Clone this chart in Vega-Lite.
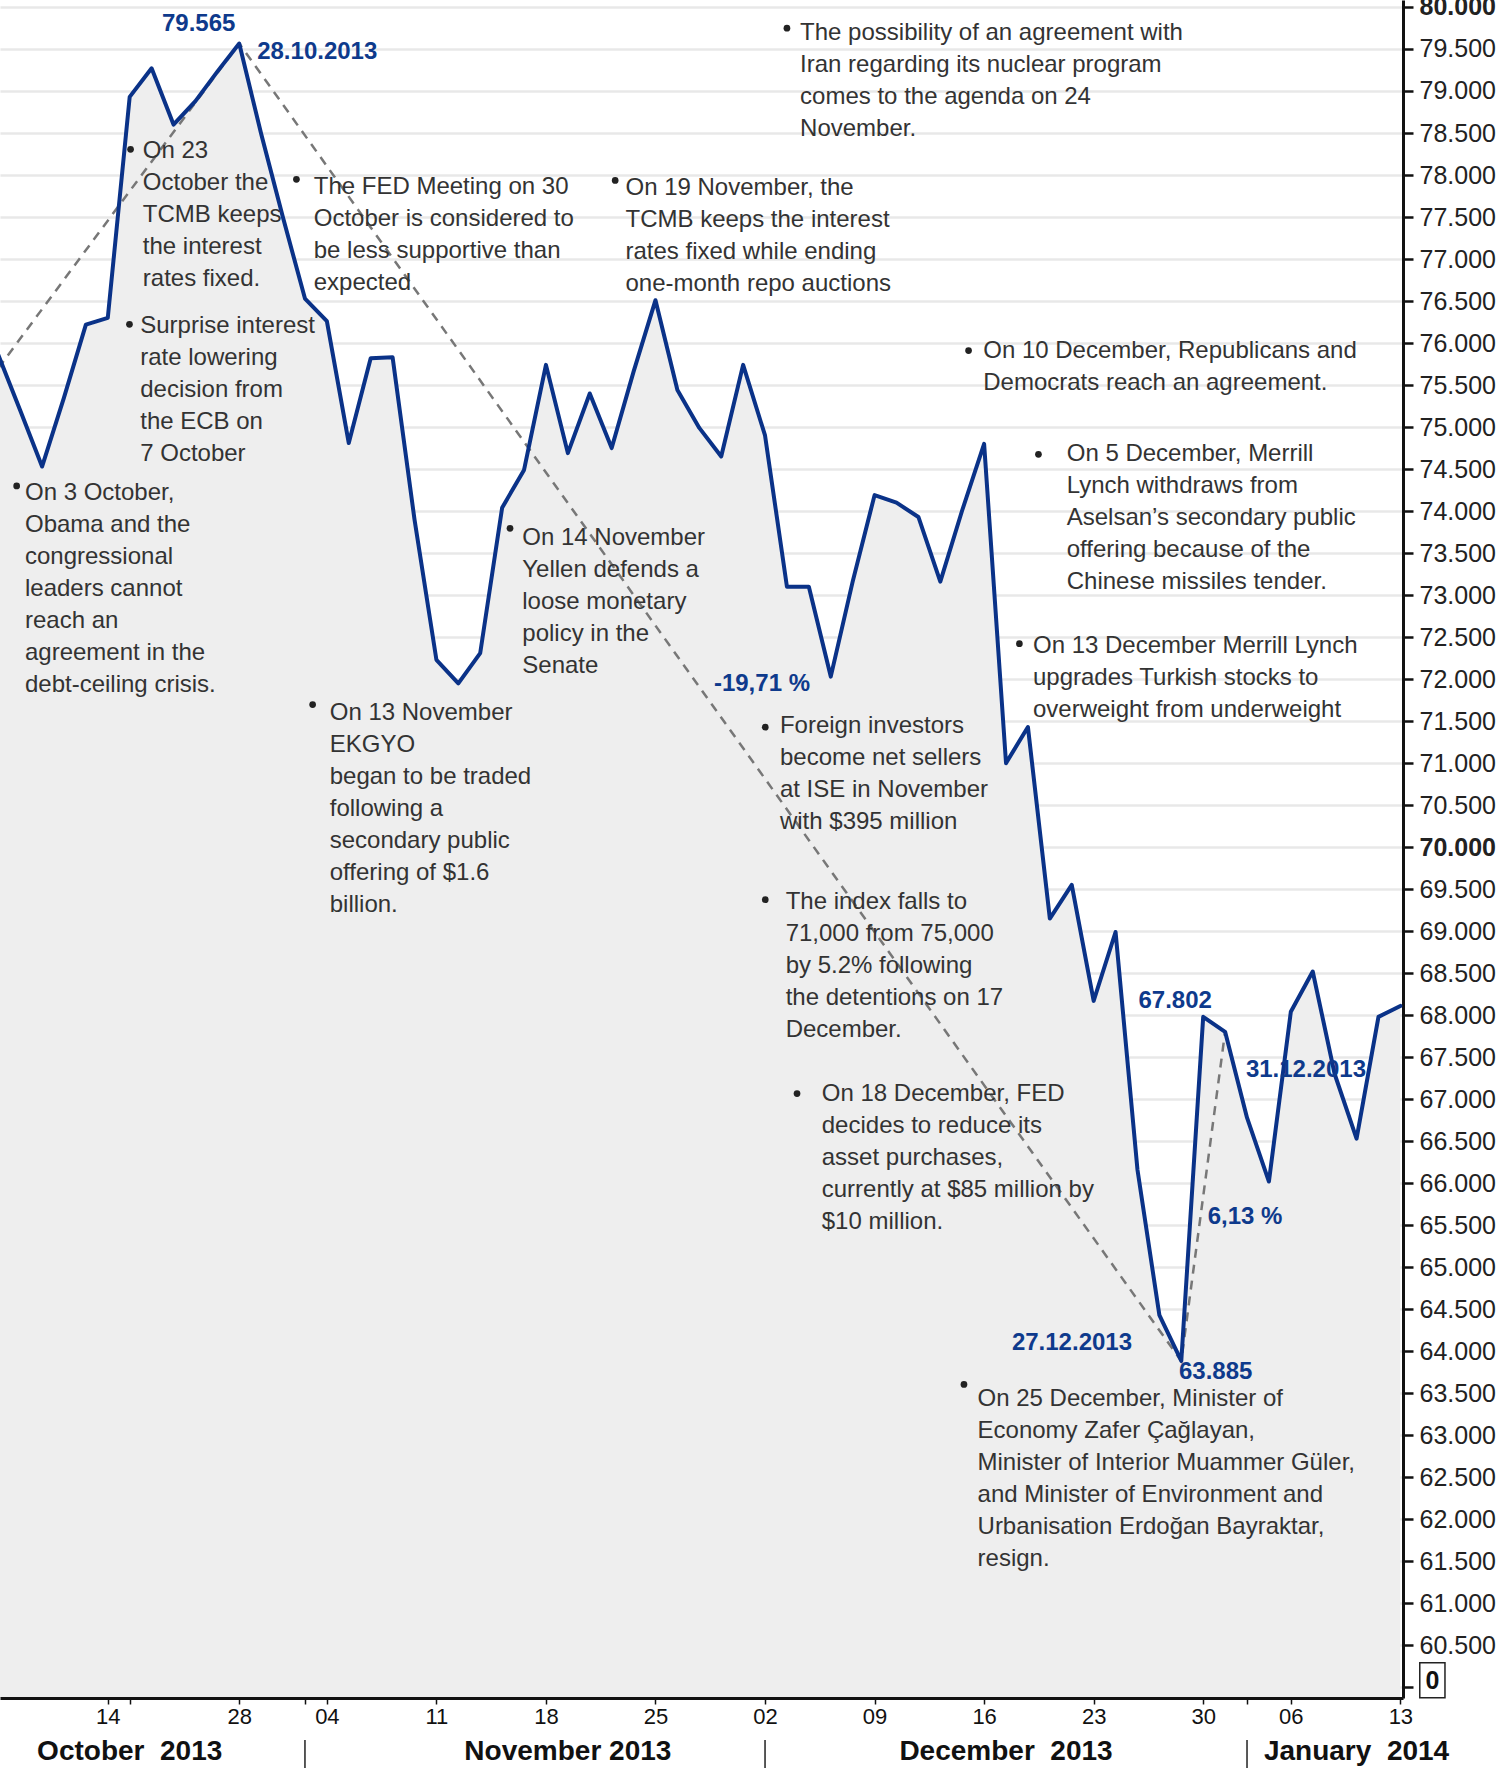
{
  "$schema": "https://vega.github.io/schema/vega-lite/v6.json",
  "width": 1403,
  "height": 1698,
  "autosize": {"type": "none"},
  "padding": {"left": 0, "top": 0, "right": 101, "bottom": 70},
  "background": "#ffffff",
  "config": {"view": {"stroke": null}, "font": "Liberation Sans"},
  "datasets": {
    "series": [
      {"date": "2013-10-07", "t": 0, "v": 75860},
      {"date": "2013-10-08", "t": 1, "v": 75200},
      {"date": "2013-10-09", "t": 2, "v": 74530},
      {"date": "2013-10-10", "t": 3, "v": 75350},
      {"date": "2013-10-11", "t": 4, "v": 76220},
      {"date": "2013-10-14", "t": 5, "v": 76300},
      {"date": "2013-10-21", "t": 6, "v": 78930},
      {"date": "2013-10-22", "t": 7, "v": 79270},
      {"date": "2013-10-23", "t": 8, "v": 78600},
      {"date": "2013-10-24", "t": 9, "v": 78880},
      {"date": "2013-10-25", "t": 10, "v": 79230},
      {"date": "2013-10-28", "t": 11, "v": 79565},
      {"date": "2013-10-30", "t": 12, "v": 78490},
      {"date": "2013-10-31", "t": 13, "v": 77490},
      {"date": "2013-11-01", "t": 14, "v": 76530},
      {"date": "2013-11-04", "t": 15, "v": 76260},
      {"date": "2013-11-05", "t": 16, "v": 74810},
      {"date": "2013-11-06", "t": 17, "v": 75820},
      {"date": "2013-11-07", "t": 18, "v": 75830},
      {"date": "2013-11-08", "t": 19, "v": 73900},
      {"date": "2013-11-11", "t": 20, "v": 72230},
      {"date": "2013-11-12", "t": 21, "v": 71950},
      {"date": "2013-11-13", "t": 22, "v": 72310},
      {"date": "2013-11-14", "t": 23, "v": 74040},
      {"date": "2013-11-15", "t": 24, "v": 74490},
      {"date": "2013-11-18", "t": 25, "v": 75740},
      {"date": "2013-11-19", "t": 26, "v": 74690},
      {"date": "2013-11-20", "t": 27, "v": 75400},
      {"date": "2013-11-21", "t": 28, "v": 74750},
      {"date": "2013-11-22", "t": 29, "v": 75660},
      {"date": "2013-11-25", "t": 30, "v": 76510},
      {"date": "2013-11-26", "t": 31, "v": 75440},
      {"date": "2013-11-27", "t": 32, "v": 74990},
      {"date": "2013-11-28", "t": 33, "v": 74650},
      {"date": "2013-11-29", "t": 34, "v": 75740},
      {"date": "2013-12-02", "t": 35, "v": 74900},
      {"date": "2013-12-03", "t": 36, "v": 73100},
      {"date": "2013-12-04", "t": 37, "v": 73100},
      {"date": "2013-12-05", "t": 38, "v": 72030},
      {"date": "2013-12-06", "t": 39, "v": 73160},
      {"date": "2013-12-09", "t": 40, "v": 74190},
      {"date": "2013-12-10", "t": 41, "v": 74100},
      {"date": "2013-12-11", "t": 42, "v": 73930},
      {"date": "2013-12-12", "t": 43, "v": 73160},
      {"date": "2013-12-13", "t": 44, "v": 74010},
      {"date": "2013-12-16", "t": 45, "v": 74800},
      {"date": "2013-12-17", "t": 46, "v": 71000},
      {"date": "2013-12-18", "t": 47, "v": 71430},
      {"date": "2013-12-19", "t": 48, "v": 69150},
      {"date": "2013-12-20", "t": 49, "v": 69550},
      {"date": "2013-12-23", "t": 50, "v": 68170},
      {"date": "2013-12-24", "t": 51, "v": 68990},
      {"date": "2013-12-25", "t": 52, "v": 66160},
      {"date": "2013-12-26", "t": 53, "v": 64430},
      {"date": "2013-12-27", "t": 54, "v": 63885},
      {"date": "2013-12-30", "t": 55, "v": 67980},
      {"date": "2013-12-31", "t": 56, "v": 67802},
      {"date": "2014-01-02", "t": 57, "v": 66780},
      {"date": "2014-01-03", "t": 58, "v": 66020},
      {"date": "2014-01-06", "t": 59, "v": 68040},
      {"date": "2014-01-07", "t": 60, "v": 68520},
      {"date": "2014-01-08", "t": 61, "v": 67300},
      {"date": "2014-01-09", "t": 62, "v": 66530},
      {"date": "2014-01-10", "t": 63, "v": 67980},
      {"date": "2014-01-13", "t": 64, "v": 68110}
    ],
    "trend": [
      {"t": 0, "v": 75700},
      {"t": 11, "v": 79565},
      {"t": 54, "v": 63885},
      {"t": 56, "v": 67802}
    ],
    "notes": [
      {"note": "The possibility of an agreement with\nIran regarding its nuclear program\ncomes to the agenda on 24\nNovember.", "t": 36.6, "v": 79832},
      {"note": "On 23\nOctober the\nTCMB keeps\nthe interest\nrates fixed.", "t": 6.6, "v": 78431},
      {"note": "The FED Meeting on 30\nOctober is considered to\nbe less supportive than\nexpected", "t": 14.4, "v": 78006},
      {"note": "On 19 November, the\nTCMB keeps the interest\nrates fixed while ending\none-month repo auctions", "t": 28.63, "v": 77994},
      {"note": "Surprise interest\nrate lowering\ndecision from\nthe ECB on\n7 October", "t": 6.48, "v": 76340},
      {"note": "On 10 December, Republicans and\nDemocrats reach an agreement.", "t": 44.96, "v": 76048},
      {"note": "On 5 December, Merrill\nLynch withdraws from\nAselsan’s secondary public\noffering because of the\nChinese missiles tender.", "t": 48.77, "v": 74827},
      {"note": "On 3 October,\nObama and the\ncongressional\nleaders cannot\nreach an\nagreement in the\ndebt-ceiling crisis.", "t": 1.22, "v": 74356},
      {"note": "On 14 November\nYellen defends a\nloose monetary\npolicy in the\nSenate", "t": 23.92, "v": 73820},
      {"note": "On 13 December Merrill Lynch\nupgrades Turkish stocks to\noverweight from underweight", "t": 47.23, "v": 72532},
      {"note": "On 13 November\nEKGYO\nbegan to be traded\nfollowing a\nsecondary public\noffering of $1.6\nbillion.", "t": 15.13, "v": 71741},
      {"note": "Foreign investors\nbecome net sellers\nat ISE in November\nwith $395 million", "t": 35.68, "v": 71579},
      {"note": "The index falls to\n71,000 from 75,000\nby 5.2% following\nthe detentions on 17\nDecember.", "t": 35.94, "v": 69487},
      {"note": "On 18 December, FED\ndecides to reduce its\nasset purchases,\ncurrently at $85 million by\n$10 million.", "t": 37.59, "v": 67205},
      {"note": "On 25 December, Minister of\nEconomy Zafer Çağlayan,\nMinister of Interior Muammer Güler,\nand Minister of Environment and\nUrbanisation Erdoğan Bayraktar,\nresign.", "t": 44.7, "v": 63569}
    ],
    "bullets": [
      {"t": 36.0, "v": 79748}, {"t": 6.04, "v": 78306}, {"t": 13.61, "v": 77949},
      {"t": 28.16, "v": 77936}, {"t": 5.99, "v": 76223}, {"t": 44.29, "v": 75910},
      {"t": 47.48, "v": 74676}, {"t": 0.84, "v": 74299}, {"t": 23.36, "v": 73795},
      {"t": 46.61, "v": 72422}, {"t": 14.35, "v": 71697}, {"t": 35.01, "v": 71428},
      {"t": 35.01, "v": 69375}, {"t": 36.46, "v": 67067}, {"t": 44.08, "v": 63605}
    ],
    "labels": [
      {"label": "79.565", "t": 9.15, "v": 79798},
      {"label": "28.10.2013", "t": 14.56, "v": 79463},
      {"label": "-19,71 %", "t": 34.86, "v": 71937},
      {"label": "67.802", "t": 53.72, "v": 68164},
      {"label": "31.12.2013", "t": 59.69, "v": 67345},
      {"label": "6,13 %", "t": 56.91, "v": 65601},
      {"label": "27.12.2013", "t": 49.01, "v": 64098},
      {"label": "63.885", "t": 55.57, "v": 63748}
    ],
    "months": [
      {"month": "October\u00a0 2013", "t": 6, "v": 59231},
      {"month": "November 2013", "t": 26, "v": 59231},
      {"month": "December\u00a0 2013", "t": 46, "v": 59231},
      {"month": "January\u00a0 2014", "t": 62, "v": 59231}
    ],
    "bounds": [
      {"t": 14, "v": 59374, "v2": 58900},
      {"t": 35, "v": 59374, "v2": 58900},
      {"t": 57, "v": 59374, "v2": 58900}
    ],
    "zero": [{"label": "0", "t": 64, "v": 60000}]
  },
  "encoding": {
    "x": {
      "field": "t", "type": "quantitative",
      "scale": {"domain": [0.08, 64.12], "nice": false, "zero": false},
      "axis": {
        "values": [5, 6, 11, 14, 15, 20, 25, 30, 35, 40, 45, 50, 55, 57, 59, 64],
        "labelExpr": "['14','','28','','04','11','18','25','02','09','16','23','30','','06','13'][indexof([5,6,11,14,15,20,25,30,35,40,45,50,55,57,59,64], datum.value)]",
        "title": null, "grid": false,
        "domainColor": "#111111", "domainWidth": 3,
        "tickColor": "#111111", "tickSize": 6, "tickWidth": 1.5,
        "labelFont": "Liberation Sans", "labelFontSize": 22,
        "labelColor": "#111111", "labelPadding": 2.5, "labelFlush": false, "labelOverlap": false,
        "zindex": 1
      }
    },
    "y": {
      "field": "v", "type": "quantitative",
      "scale": {"domain": [59873, 80083], "nice": false, "zero": false},
      "axis": {
        "orient": "right",
        "values": [60000, 60500, 61000, 61500, 62000, 62500, 63000, 63500, 64000, 64500, 65000, 65500, 66000, 66500, 67000, 67500, 68000, 68500, 69000, 69500, 70000, 70500, 71000, 71500, 72000, 72500, 73000, 73500, 74000, 74500, 75000, 75500, 76000, 76500, 77000, 77500, 78000, 78500, 79000, 79500, 80000],
        "labelExpr": "datum.value == 60000 ? '' : replace(format(datum.value, ','), ',', '.')",
        "labelFontWeight": {"condition": {"test": "datum.value == 70000 || datum.value == 80000", "value": "bold"}, "value": "normal"},
        "title": null, "grid": true, "gridColor": "#e8e8e8", "gridWidth": 2.5,
        "domainColor": "#111111", "domainWidth": 3,
        "tickColor": "#111111", "tickSize": 10, "tickWidth": 2.5,
        "labelFont": "Liberation Sans", "labelFontSize": 25, "labelColor": "#222222",
        "labelPadding": 6, "labelOverlap": false, "labelBound": false
      }
    }
  },
  "layer": [
    {
      "data": {"name": "series"},
      "mark": {"type": "area", "color": "#eeeeee", "clip": true},
      "encoding": {"y2": {"datum": 59873}}
    },
    {
      "data": {"name": "trend"},
      "mark": {"type": "line", "color": "#777777", "strokeWidth": 2.5, "strokeDash": [9, 7]},
      "encoding": {}
    },
    {
      "data": {"name": "series"},
      "mark": {"type": "line", "color": "#0a3288", "strokeWidth": 4, "strokeJoin": "round", "strokeCap": "round"},
      "encoding": {}
    },
    {
      "data": {"name": "bullets"},
      "mark": {"type": "point", "shape": "circle", "filled": true, "color": "#222222", "size": 45, "opacity": 1}
    },
    {
      "data": {"name": "notes"},
      "mark": {"type": "text", "align": "left", "baseline": "top", "font": "Liberation Sans", "fontSize": 24, "lineHeight": 32, "lineBreak": "\n", "color": "#333333"},
      "encoding": {"text": {"field": "note", "type": "nominal"}}
    },
    {
      "data": {"name": "labels"},
      "mark": {"type": "text", "align": "center", "baseline": "middle", "font": "Liberation Sans", "fontSize": 24, "fontWeight": "bold", "color": "#0e3a8c"},
      "encoding": {"text": {"field": "label", "type": "nominal"}}
    },
    {
      "data": {"name": "months"},
      "mark": {"type": "text", "align": "center", "baseline": "middle", "font": "Liberation Sans", "fontSize": 28, "fontWeight": "bold", "color": "#111111"},
      "encoding": {"text": {"field": "month", "type": "nominal"}}
    },
    {
      "data": {"name": "bounds"},
      "mark": {"type": "rule", "color": "#222222", "strokeWidth": 1.5},
      "encoding": {"y2": {"field": "v2"}}
    },
    {
      "data": {"name": "zero"},
      "mark": {"type": "point", "shape": "M-0.72,-1L0.72,-1L0.72,1L-0.72,1Z", "size": 1225, "filled": false, "stroke": "#222222", "strokeWidth": 1.5, "opacity": 1, "xOffset": 32, "yOffset": -7}
    },
    {
      "data": {"name": "zero"},
      "mark": {"type": "text", "align": "center", "baseline": "middle", "font": "Liberation Sans", "fontSize": 25, "fontWeight": "bold", "color": "#111111", "dx": 32, "dy": -6},
      "encoding": {"text": {"field": "label", "type": "nominal"}}
    }
  ]
}
